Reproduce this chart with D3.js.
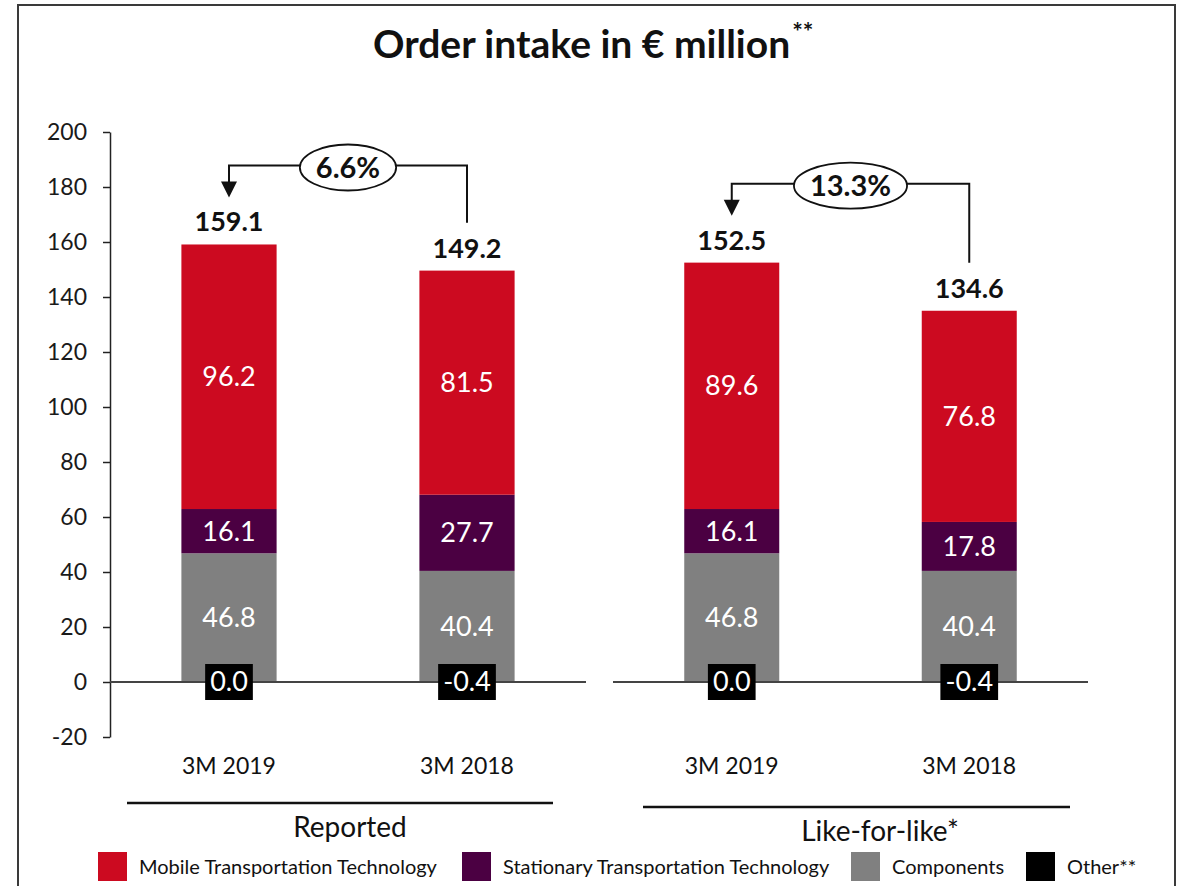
<!DOCTYPE html>
<html>
<head>
<meta charset="utf-8">
<script src="https://cdn.jsdelivr.net/npm/d3@7"></script>
<style>
  html, body { margin: 0; padding: 0; background: #fff; }
  svg { display: block; font-family: Lato, "Open Sans", sans-serif; }
</style>
</head>
<body>
<svg id="chart" width="1179" height="886"></svg>
<script>
// Order intake in € million — stacked by division, two comparison panels
const periods    = ["3M 2019", "3M 2018"];
const panels     = ["Reported", "Like-for-like*"];
const mobile     = [[96.2, 81.5], [89.6, 76.8]];
const stationary = [[16.1, 27.7], [16.1, 17.8]];
const components = [[46.8, 40.4], [46.8, 40.4]];
const other      = [[0.0, -0.4], [0.0, -0.4]];
const totals     = [[159.1, 149.2], [152.5, 134.6]];
const changes    = ["6.6%", "13.3%"];
const yTicks     = [-20, 0, 20, 40, 60, 80, 100, 120, 140, 160, 180, 200];

const seriesKeys   = ["components", "stationary", "mobile", "other"];
const seriesColors = { mobile: "#CC0A20", stationary: "#4B0042", components: "#808080", other: "#000000" };
const legendOrder  = ["mobile", "stationary", "components", "other"];
const legendNames  = ["Mobile Transportation Technology", "Stationary Transportation Technology", "Components", "Other**"];

const svg = d3.select("#chart");
const font = "Lato, 'Open Sans', sans-serif";

// frame
svg.append("path")
  .attr("d", "M18,886 V5 H1175 V886")
  .attr("fill", "none").attr("stroke", "#3a3a3a").attr("stroke-width", 2);

// title
const title = svg.append("text")
  .attr("x", 373).attr("y", 58)
  .attr("text-anchor", "start")
  .attr("font-size", 39).attr("font-weight", 700).attr("fill", "#111");
title.append("tspan").text("Order intake in € million");
title.append("tspan").text("**").attr("font-size", 25).attr("dy", -17).attr("dx", 2);

// y scale and axis
const y = d3.scaleLinear().domain([-20, 200]).range([737, 132]);
const yAxis = svg.append("g").attr("transform", "translate(110,0)")
  .call(d3.axisLeft(y).tickValues(yTicks).tickFormat(d => String(d))
    .tickSize(7).tickPadding(16).tickSizeOuter(0));
yAxis.select(".domain").attr("stroke", "#222").attr("stroke-width", 1.5);
yAxis.selectAll(".tick line").attr("stroke", "#222").attr("stroke-width", 1.5);
yAxis.selectAll(".tick text").attr("font-family", font).attr("font-size", 23).attr("fill", "#1a1a1a");

const panelRanges = [[110, 586], [613, 1088]];
const underlines  = [[127, 553, 803], [643, 1070, 807]];
const panelLabelX = [350, 880];
const stack = d3.stack().keys(seriesKeys).offset(d3.stackOffsetDiverging);

panels.forEach((panel, p) => {
  const x = d3.scaleBand().domain(periods).range(panelRanges[p]).paddingInner(0.6).paddingOuter(0.3);
  const rows = periods.map((period, i) => ({
    period,
    mobile: mobile[p][i],
    stationary: stationary[p][i],
    components: components[p][i],
    other: other[p][i],
    total: totals[p][i]
  }));
  const layers = stack(rows);
  const g = svg.append("g");

  // stacked segments (Other is shown by its label only)
  layers.filter(l => l.key !== "other").forEach(layer => {
    g.selectAll(null).data(layer).join("rect")
      .attr("x", d => x(d.data.period))
      .attr("width", x.bandwidth())
      .attr("y", d => y(d[1]))
      .attr("height", d => Math.max(0, y(d[0]) - y(d[1])))
      .attr("fill", seriesColors[layer.key]);
    g.selectAll(null).data(layer).join("text")
      .attr("x", d => x(d.data.period) + x.bandwidth() / 2)
      .attr("y", d => (y(d[0]) + y(d[1])) / 2)
      .attr("dy", "0.35em")
      .attr("text-anchor", "middle")
      .attr("font-size", 27).attr("fill", "#fff")
      .text(d => d.data[layer.key].toFixed(1));
  });

  // zero baseline
  g.append("line")
    .attr("x1", panelRanges[p][0]).attr("x2", panelRanges[p][1])
    .attr("y1", y(0)).attr("y2", y(0))
    .attr("stroke", "#444").attr("stroke-width", 1.8);

  // "Other" labels in black boxes on the baseline
  rows.forEach(r => {
    const cx = x(r.period) + x.bandwidth() / 2;
    const t = g.append("text")
      .attr("x", cx).attr("y", y(0)).attr("dy", "0.35em")
      .attr("text-anchor", "middle")
      .attr("font-size", 27).attr("fill", "#fff")
      .text(r.other.toFixed(1));
    const bb = t.node().getBBox();
    g.insert("rect", () => t.node())
      .attr("x", bb.x - 5).attr("width", bb.width + 10)
      .attr("y", y(0) - 18).attr("height", 36)
      .attr("fill", seriesColors.other);
  });

  // totals above bars
  g.selectAll(null).data(rows).join("text")
    .attr("x", d => x(d.period) + x.bandwidth() / 2)
    .attr("y", d => y(d.mobile + d.stationary + d.components) - 13)
    .attr("text-anchor", "middle")
    .attr("font-size", 27).attr("font-weight", 700).attr("fill", "#111")
    .text(d => d.total.toFixed(1));

  // category labels
  g.selectAll(null).data(periods).join("text")
    .attr("x", d => x(d) + x.bandwidth() / 2)
    .attr("y", 774)
    .attr("text-anchor", "middle")
    .attr("font-size", 23).attr("fill", "#111")
    .text(d => d);

  // growth bracket with arrow and ellipse
  const cx0 = x(periods[0]) + x.bandwidth() / 2;
  const cx1 = x(periods[1]) + x.bandwidth() / 2;
  const top0 = y(totals[p][0]);
  const top1 = y(totals[p][1]);
  const by = top0 - 79;
  const tip = top0 - 47;
  g.append("path")
    .attr("d", `M${cx1},${top1 - 49} V${by} H${cx0} V${tip - 14}`)
    .attr("fill", "none").attr("stroke", "#111").attr("stroke-width", 2);
  g.append("path")
    .attr("d", `M${cx0 - 8},${tip - 16} L${cx0 + 8},${tip - 16} L${cx0},${tip} Z`)
    .attr("fill", "#111");
  const ex = (cx0 + cx1) / 2;
  const lbl = g.append("text")
    .attr("x", ex).attr("y", by + 2).attr("dy", "0.35em")
    .attr("text-anchor", "middle")
    .attr("font-size", 29).attr("font-weight", 700).attr("fill", "#111")
    .text(changes[p]);
  const lw = lbl.node().getBBox().width;
  g.insert("ellipse", () => lbl.node())
    .attr("cx", ex).attr("cy", by + 2)
    .attr("rx", lw / 2 + 16).attr("ry", 23)
    .attr("fill", "#fff").attr("stroke", "#111").attr("stroke-width", 1.8);

  // panel underline and name
  const [ux0, ux1, uy] = underlines[p];
  g.append("line")
    .attr("x1", ux0).attr("x2", ux1).attr("y1", uy).attr("y2", uy)
    .attr("stroke", "#111").attr("stroke-width", 2.5);
  g.append("text")
    .attr("x", panelLabelX[p]).attr("y", uy + 34)
    .attr("text-anchor", "middle")
    .attr("font-size", 28).attr("fill", "#111")
    .text(panel);
});

// legend
const legendX = [98, 462, 851, 1026];
const legend = svg.append("g");
legendOrder.forEach((k, i) => {
  legend.append("rect")
    .attr("x", legendX[i]).attr("y", 852).attr("width", 29).attr("height", 29)
    .attr("fill", seriesColors[k]);
  legend.append("text")
    .attr("x", legendX[i] + 41).attr("y", 874)
    .attr("font-size", 20).attr("fill", "#111")
    .text(legendNames[i]);
});
</script>
</body>
</html>
